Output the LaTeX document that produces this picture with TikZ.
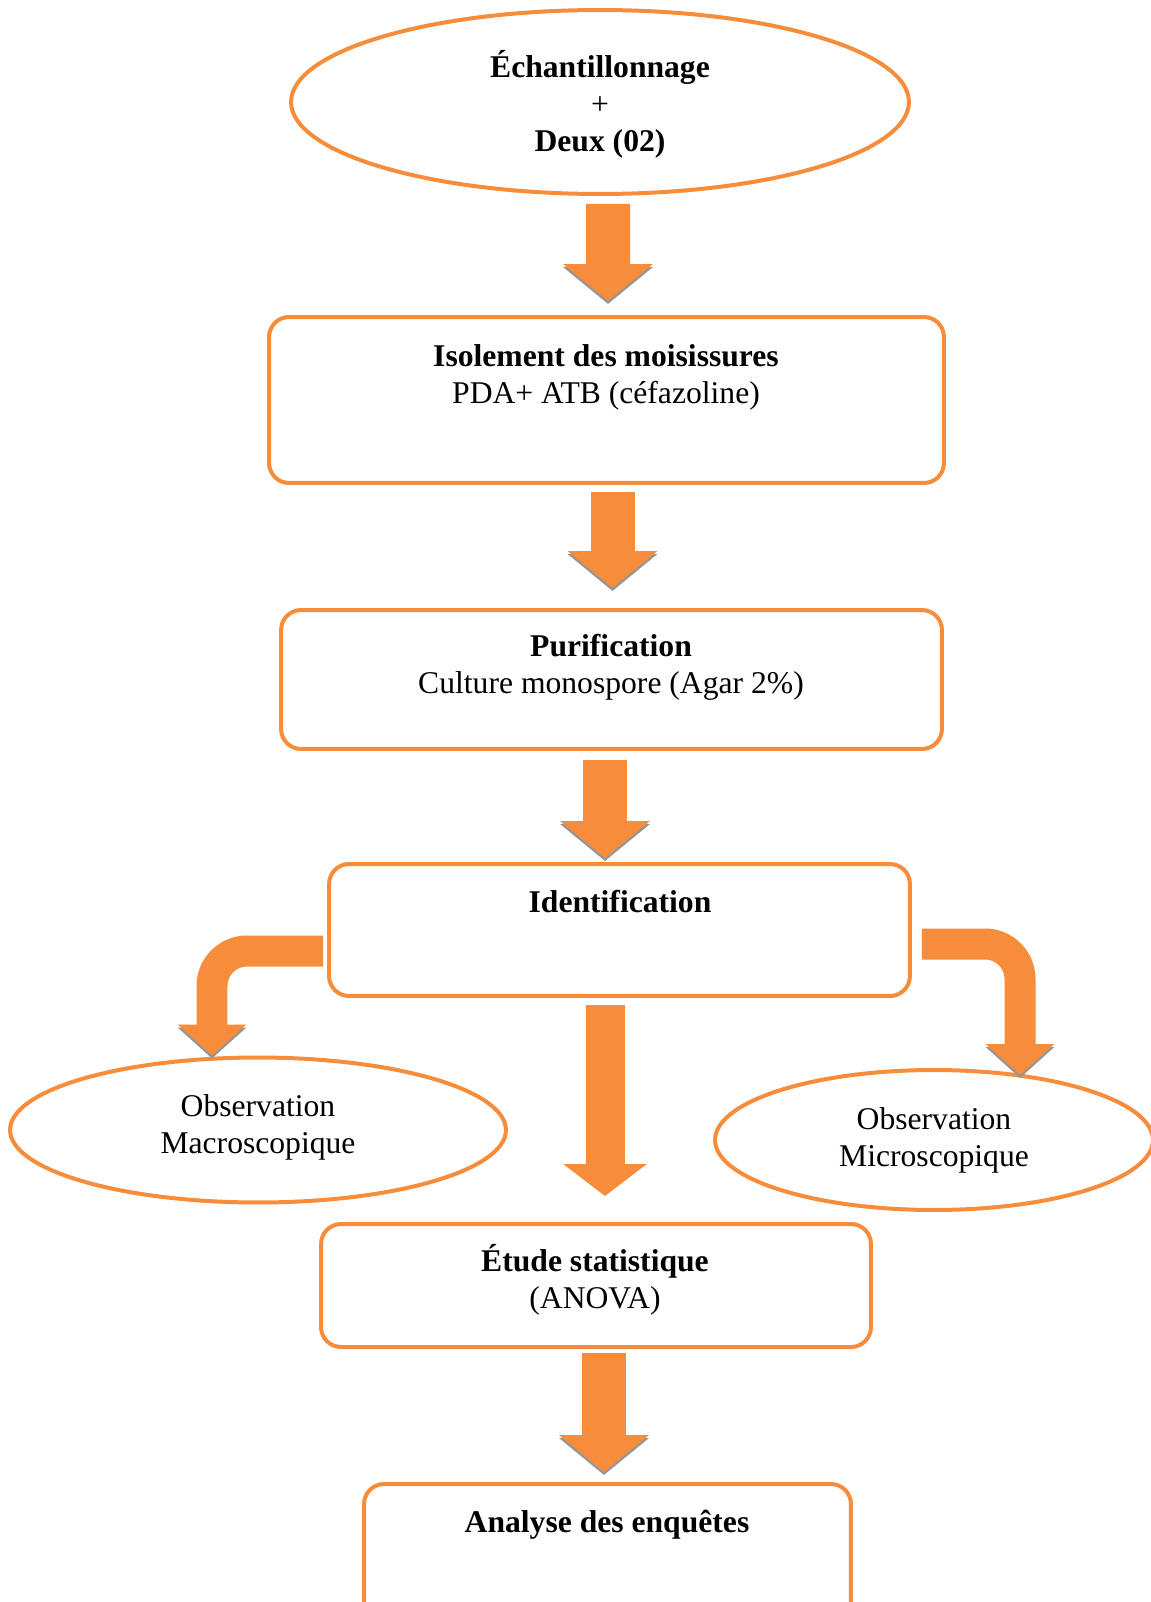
\documentclass[tikz,border=0pt]{standalone}
\usepackage{fontspec}
\setmainfont{Liberation Serif}
\usepackage{tikz}
\usetikzlibrary{arrows.meta,shapes.geometric}
\definecolor{orangeline}{RGB}{247,140,58}
\definecolor{shadowgray}{RGB}{150,150,150}
\tikzset{
    stepbox/.style={draw=orangeline, line width=0.08cm, rounded corners=0.4cm, inner sep=0pt},
    oval/.style={draw=orangeline, line width=0.08cm, ellipse, inner sep=0pt},
    txt/.style={align=center, inner sep=0pt, font=\fontsize{18}{21}\selectfont},
    blockarrow/.style={draw=orangeline, line width=0.88cm, -{Triangle[width=1.76cm,length=0.74cm]},
        preaction={draw=shadowgray, transform canvas={yshift=-0.06cm}}},
    plainarrow/.style={draw=orangeline, line width=0.78cm, -{Triangle[width=1.64cm,length=0.64cm]}},
    bentarrow/.style={draw=orangeline, line width=0.62cm, -{Triangle[width=1.34cm,length=0.62cm]},
        preaction={draw=shadowgray, transform canvas={yshift=-0.06cm}}},
}
\begin{document}
\begin{tikzpicture}[x=0.02cm, y=-0.02cm]
    \useasboundingbox (0,0) rectangle (1151,1602);
    \clip (0,0) rectangle (1151,1602);
    % boxes and ovals
    \node[oval, minimum width=12.36cm, minimum height=3.68cm] (ech) at (600,102) {};
    \node[txt] (echt) at (600,104) {\textbf{Échantillonnage}\\+\\\textbf{Deux (02)}};
    \node[stepbox, minimum width=13.5cm, minimum height=3.32cm] (iso) at (606.5,400) {};
    \node[txt] (isot) at (606,377) {\textbf{Isolement des moisissures}\\PDA+ ATB (céfazoline)};
    \node[stepbox, minimum width=13.22cm, minimum height=2.78cm] (puri) at (611.5,679.5) {};
    \node[txt] (purit) at (611,667) {\textbf{Purification}\\Culture monospore (Agar 2\%)};
    \node[stepbox, minimum width=11.62cm, minimum height=2.64cm] (ident) at (619.5,930) {};
    \node[txt] (identt) at (620,902) {\textbf{Identification}};
    \node[oval, minimum width=9.92cm, minimum height=2.9cm] (macro) at (258,1130) {};
    \node[txt] (macrot) at (258,1127) {Observation\\Macroscopique};
    \node[oval, minimum width=8.76cm, minimum height=2.8cm] (micro) at (934,1140) {};
    \node[txt] (microt) at (934,1140) {Observation\\Microscopique};
    \node[stepbox, minimum width=11cm, minimum height=2.46cm] (stat) at (596,1285.5) {};
    \node[txt] (statt) at (595,1280) {\textbf{Étude statistique}\\(ANOVA)};
    \node[stepbox, minimum width=9.74cm, minimum height=2.8cm] (enq) at (607.5,1554) {};
    \node[txt] (enqt) at (607,1525) {\textbf{Analyse des enquêtes}};
    % arrows
    \draw[blockarrow] ([shift={(8,8)}]ech.south) -- ([shift={(1.5,-14)}]iso.north);
    \draw[blockarrow] ([shift={(6,7)}]iso.south) -- ([shift={(1,-20)}]puri.north);
    \draw[blockarrow] ([shift={(-6.5,9)}]puri.south) -- ([shift={(-14.5,-4)}]ident.north);
    \draw[plainarrow] ([shift={(-14.5,7)}]ident.south) -- ([shift={(9,-26)}]stat.north);
    \draw[blockarrow] ([shift={(8,4)}]stat.south) -- ([shift={(-3.5,-10)}]enq.north);
    \draw[bentarrow, rounded corners=0.7cm] ([shift={(-4,21)}]ident.west) -| ([shift={(-46,0)}]macro.north);
    \draw[bentarrow, rounded corners=0.7cm] ([shift={(10,14)}]ident.east) -| ([shift={(86,7)}]micro.north);
\end{tikzpicture}
\end{document}
